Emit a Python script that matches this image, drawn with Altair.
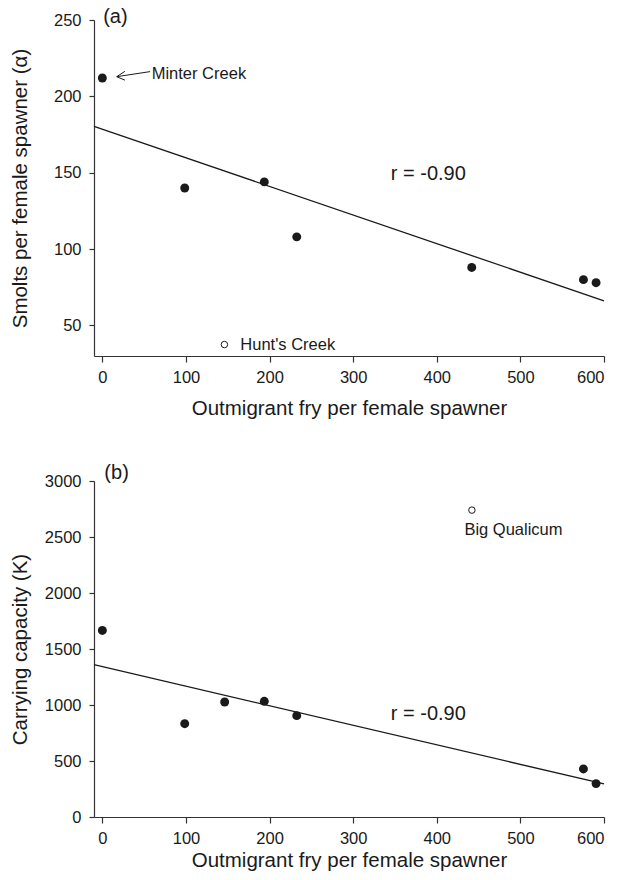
import altair as alt
import pandas as pd

FONT = "Liberation Sans"
INK = "#1a1a1a"

# ---- data ----
x_ticks = [0, 100, 200, 300, 400, 500, 600]
ya_ticks = [50, 100, 150, 200, 250]
yb_ticks = [0, 500, 1000, 1500, 2000, 2500, 3000]

# panel (a)
fry_a = [0, 98.5, 193.7, 232.5, 441.8, 575.4, 590.5]
smolts_a = [212, 140, 144, 108, 88, 80, 78]
hunts_x = [146]
hunts_y = [37.5]

# panel (b)
fry_b = [0, 98.5, 146.3, 193.7, 232.5, 575.4, 590.5]
k_b = [1666, 833, 1027, 1033, 905, 429, 298]
bigq_x = [442]
bigq_y = [2740]

# annotations
labels_a_text = ["Minter Creek", "Hunt's Creek", "r = -0.90", "(a)"]
labels_a_x = [59, 165, 345, 1]
labels_a_y = [214.4, 37.4, 149, 251.8]
labels_a_size = [16.5, 16.5, 20, 20]

labels_b_text = ["Big Qualicum", "r = -0.90", "(b)"]
labels_b_x = [433, 345, 2.4]
labels_b_y = [2565, 917, 3075]
labels_b_size = [16.5, 20, 20]

# arrow (shaft + two barbs) pointing at Minter Creek
arrow_x = [57.1, 17.2, 17.2]
arrow_y = [216.2, 212.9, 212.9]
arrow_x2 = [17.2, 27.0, 27.0]
arrow_y2 = [212.9, 216.4, 210.6]

W, H = 510, 336
XDOM = [-10, 600]


def x_axis(title_pad):
    return alt.Axis(values=x_ticks, format="d", grid=False, tickSize=6,
                    labelPadding=7, titlePadding=title_pad)


def y_axis(ticks, title):
    return alt.Axis(values=ticks, format="d", grid=False, tickSize=5,
                    labelPadding=8, title=title, titleX=-74,
                    titleY=H / 2, titleAngle=-90, titleBaseline="middle",
                    titleAlign="center")


def panel(fx, fy, ox, oy, ydom, yticks, ytitle, lt, lx, ly, ls, title_pad,
          extra=None):
    df = pd.DataFrame({"x": fx, "y": fy})
    open_df = pd.DataFrame({"x": ox, "y": oy})
    lab = pd.DataFrame({"t": lt, "x": lx, "y": ly, "s": ls})
    xs = alt.Scale(domain=XDOM, nice=False, zero=False)
    ys = alt.Scale(domain=ydom, nice=False, zero=False)
    X = alt.X("x:Q", scale=xs, axis=x_axis(title_pad),
              title="Outmigrant fry per female spawner")
    Y = alt.Y("y:Q", scale=ys, axis=y_axis(yticks, ytitle))

    reg = alt.Chart(df).transform_regression(
        "x", "y", extent=XDOM
    ).mark_line(color=INK, strokeWidth=1.3).encode(x=X, y=Y)
    pts = alt.Chart(df).mark_circle(size=80, color=INK, opacity=1).encode(
        x=alt.X("x:Q", scale=xs), y=alt.Y("y:Q", scale=ys))
    opn = alt.Chart(open_df).mark_point(
        shape="circle", filled=False, size=42, strokeWidth=1, color=INK,
        opacity=1).encode(x=alt.X("x:Q", scale=xs), y=alt.Y("y:Q", scale=ys))
    txt = alt.Chart(lab).mark_text(
        align="left", baseline="middle", font=FONT,
        color=INK).encode(x=alt.X("x:Q", scale=xs),
                          y=alt.Y("y:Q", scale=ys), text="t:N",
                          size=alt.Size("s:Q", scale=None, legend=None))
    layers = [reg, pts, opn, txt]
    if extra is not None:
        layers.append(extra(xs, ys))
    return alt.layer(*layers).properties(width=W, height=H)


def arrow(xs, ys):
    adf = pd.DataFrame({"x": arrow_x, "y": arrow_y,
                        "x2": arrow_x2, "y2": arrow_y2})
    return alt.Chart(adf).mark_rule(color=INK, strokeWidth=1).encode(
        x=alt.X("x:Q", scale=xs), y=alt.Y("y:Q", scale=ys),
        x2="x2:Q", y2="y2:Q")


pa = panel(fry_a, smolts_a, hunts_x, hunts_y, [30, 250], ya_ticks,
           "Smolts per female spawner (\u03b1)",
           labels_a_text, labels_a_x, labels_a_y, labels_a_size, 13,
           extra=arrow)
pb = panel(fry_b, k_b, bigq_x, bigq_y, [0, 3000], yb_ticks,
           "Carrying capacity (K)",
           labels_b_text, labels_b_x, labels_b_y, labels_b_size, 4)

chart = alt.vconcat(pa, pb, spacing=43).properties(
    padding={"left": 10, "top": 7, "right": 10, "bottom": 2}
).configure(font=FONT).configure_view(stroke=None).configure_axis(
    labelFont=FONT, titleFont=FONT, labelFontSize=16.5, titleFontSize=20.5,
    titleFontWeight="normal", labelColor=INK, titleColor=INK,
    domainColor="#333", tickColor="#333", domainWidth=1.2, tickWidth=1.2
)

chart.save("out.html", embed_options={"renderer": "svg", "actions": False})
